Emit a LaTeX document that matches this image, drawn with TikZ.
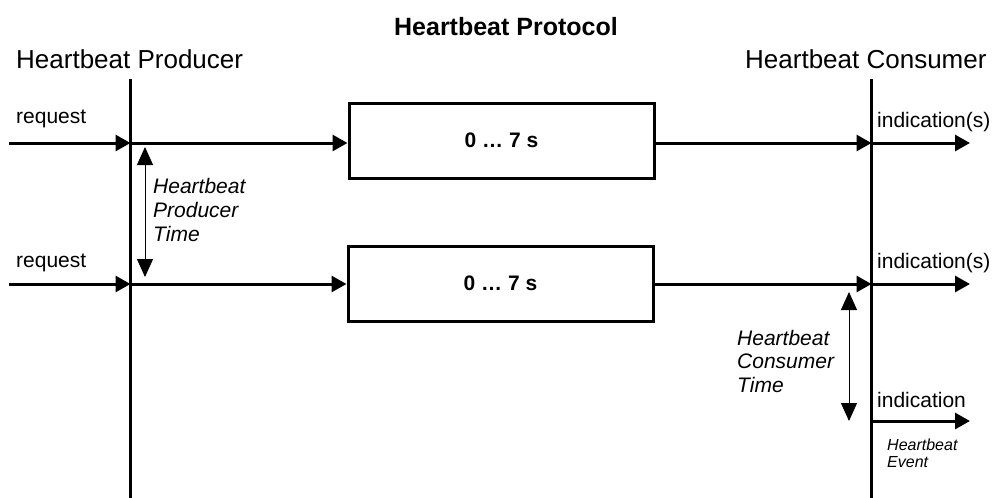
\documentclass[tikz,border=0pt]{standalone}
\usepackage{fontspec}
\setmainfont{Liberation Sans}
\usetikzlibrary{arrows.meta}
\begin{document}
\begin{tikzpicture}[x=1pt,y=-1pt,
  lifeline/.style={line width=3pt},
  main/.style={line width=3pt,-{Triangle[length=15pt,width=16pt]}},
  timearr/.style={line width=1pt,{Triangle[length=18pt,width=16pt]}-{Triangle[length=18pt,width=16pt]}},
  boxnode/.style={draw,line width=3pt,minimum width=305pt,minimum height=75pt,inner sep=0pt,font=\fontsize{21}{24}\selectfont\bfseries},
  lbl/.style={font=\fontsize{21}{24}\selectfont,anchor=base west,inner sep=0pt},
  head/.style={font=\fontsize{26}{30}\selectfont,anchor=base west,inner sep=0pt},
  note/.style={font=\fontsize{21}{24}\selectfont\itshape,anchor=base west,inner sep=0pt},
  small/.style={font=\fontsize{16}{18}\selectfont\itshape,anchor=base west,inner sep=0pt}]
\useasboundingbox (0,0) rectangle (997,498);

% title and headers
\node[font=\fontsize{25}{30}\selectfont\bfseries,anchor=base,inner sep=0pt] (title) at (506,35) {Heartbeat Protocol};
\node[head] (prod) at (16,68) {Heartbeat Producer};
\node[head] (cons) at (745,68) {Heartbeat Consumer};

% lifelines
\coordinate (ptop) at (130.5,79);
\coordinate (pbot) at (130.5,498);
\coordinate (ctop) at (871.5,79);
\coordinate (cbot) at (871.5,498);
\draw[lifeline] (ptop) -- (pbot);
\draw[lifeline] (ctop) -- (cbot);

% boxes
\node[boxnode] (box1) at (501.5,140.5) {0 … 7 s};
\node[boxnode] (box2) at (500.5,283.5) {0 … 7 s};

% row 1
\coordinate (in1) at (9,143);
\coordinate (p1) at (130.5,143);
\coordinate (c1) at (871.5,143);
\coordinate (out1) at (970,143);
\draw[main] (in1) -- (p1);
\draw[main] (p1) -- (box1.west |- p1);
\draw[main] (box1.east |- p1) -- (c1);
\draw[main] (c1) -- (out1);
\node[lbl] (req1) at (16,123) {request};
\node[lbl] (ind1) at (877,127) {indication(s)};

% row 2
\coordinate (in2) at (9,284);
\coordinate (p2) at (130.5,284);
\coordinate (c2) at (871.5,284);
\coordinate (out2) at (970,284);
\draw[main] (in2) -- (p2);
\draw[main] (p2) -- (box2.west |- p2);
\draw[main] (box2.east |- p2) -- (c2);
\draw[main] (c2) -- (out2);
\node[lbl] (req2) at (16,267) {request};
\node[lbl] (ind2) at (877,268) {indication(s)};

% producer time
\coordinate (pt1) at (145,147);
\coordinate (pt2) at (145,277);
\draw[timearr] (pt1) -- (pt2);
\node[note] (pn1) at (153,193) {Heartbeat};
\node[note] (pn2) at (153,217) {Producer};
\node[note] (pn3) at (153,241) {Time};

% consumer time
\coordinate (ct1) at (849,292);
\coordinate (ct2) at (849,421);
\draw[timearr] (ct1) -- (ct2);
\node[note] (cn1) at (737,345) {Heartbeat};
\node[note] (cn2) at (737,368) {Consumer};
\node[note] (cn3) at (737,392) {Time};

% heartbeat event
\coordinate (c3) at (871.5,421);
\coordinate (out3) at (970,421);
\draw[main] (c3) -- (out3);
\node[lbl] (ind3) at (877,407) {indication};
\node[small] (ev1) at (887,450) {Heartbeat};
\node[small] (ev2) at (887,467) {Event};
\end{tikzpicture}
\end{document}
